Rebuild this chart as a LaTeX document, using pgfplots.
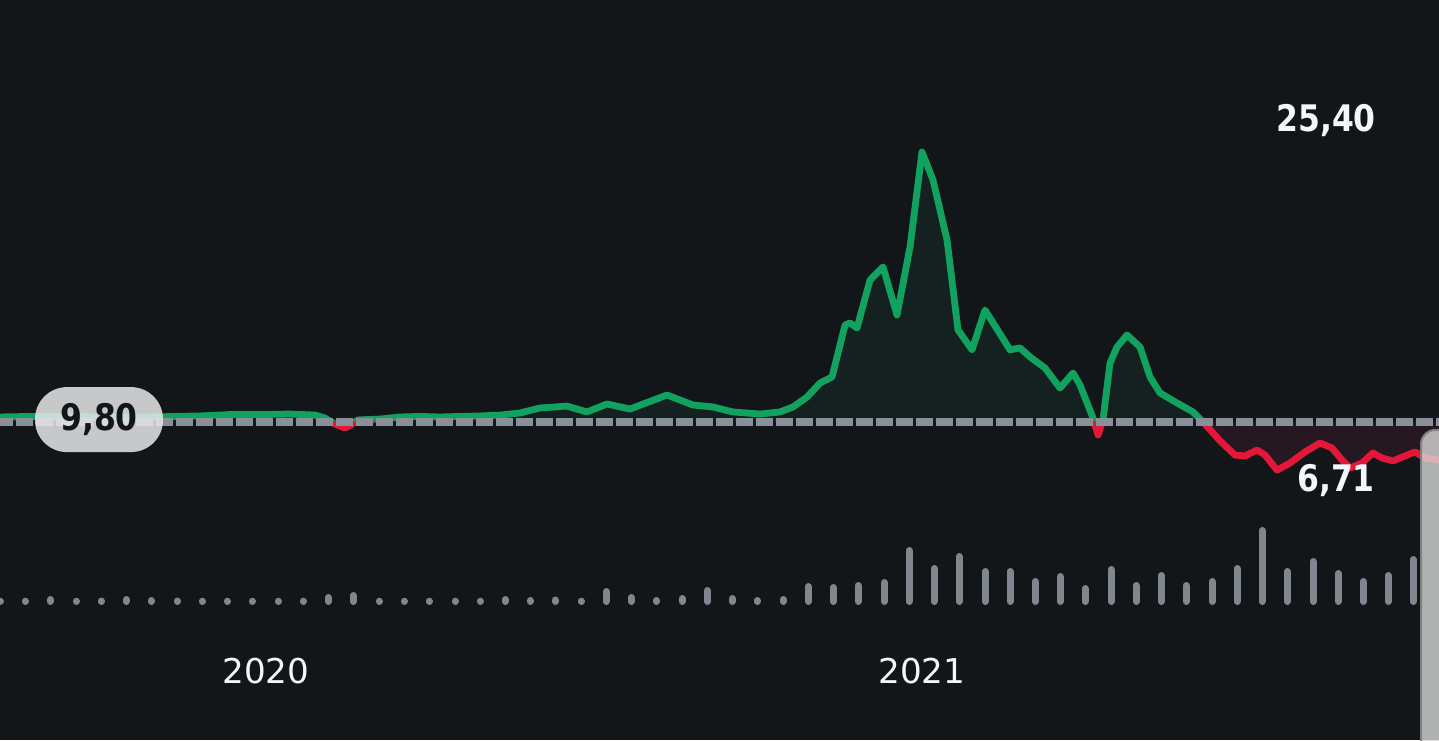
\documentclass[border=0pt]{standalone}
\usepackage{pgfplots}
\pgfplotsset{compat=1.18}
\usepackage{pgfplotstable}
\usepackage{fontspec}
\setmainfont{DejaVu Sans}
\newfontfamily\labfont{DejaVu Sans}[FakeStretch=0.86]
\definecolor{bg}{HTML}{121619}
\definecolor{upc}{HTML}{10A25E}
\definecolor{dnc}{HTML}{E3173A}
\definecolor{upfill}{HTML}{152120}
\definecolor{dnfill}{HTML}{261820}
\definecolor{dashc}{HTML}{8A9099}
\definecolor{volc}{HTML}{7F868E}
\definecolor{pillc}{HTML}{E6E8EA}
\definecolor{txt}{HTML}{F5F7FA}
\definecolor{panelc}{HTML}{D8D8D8}

\pgfplotstableread{
x p
0 10.09
30 10.12
100 10.09
150 10.09
200 10.15
230 10.23
260 10.23
290 10.26
315 10.20
325 10.03
335 9.68
345 9.45
352 9.68
358 9.92
380 9.97
400 10.09
420 10.12
440 10.09
460 10.12
480 10.15
500 10.20
520 10.32
540 10.61
567 10.72
587 10.38
607 10.84
630 10.55
667 11.36
693 10.78
713 10.67
733 10.38
760 10.26
780 10.38
793 10.67
807 11.24
820 12.05
832 12.40
845 15.40
850 15.52
857 15.23
870 18.00
883 18.76
897 15.98
910 19.91
922 25.40
933 23.78
947 20.32
958 15.12
972 13.97
985 16.27
1010 13.97
1020 14.08
1030 13.56
1045 12.92
1060 11.76
1073 12.63
1080 11.94
1093 10.03
1098 9.05
1103 9.92
1110 13.21
1117 14.13
1127 14.83
1140 14.13
1150 12.40
1160 11.48
1177 10.90
1193 10.38
1200 9.97
1205 9.68
1220 8.71
1235 7.89
1245 7.84
1257 8.18
1265 7.89
1277 7.02
1290 7.43
1305 8.07
1320 8.59
1332 8.30
1342 7.60
1350 7.14
1362 7.43
1373 8.01
1382 7.72
1393 7.55
1405 7.84
1415 8.07
1425 7.72
1439 7.60
}\price

\pgfplotstableread{
x v
0 0.3
25 0.3
50 2
76 0.3
101 0.5
126 2
151 1
177 0.5
202 0.3
227 0.3
252 0.3
278 0.3
303 0.3
328 4
353 6
379 0.3
404 0.3
429 0.3
455 0.3
480 0.3
505 2
530 1
555 1.5
581 0.3
606 10
631 4
656 1
682 3
707 11
732 3
757 1
783 2
808 15
833 14
858 16
884 19
909 51
934 33
959 45
985 30
1010 30
1035 20
1060 25
1085 13
1111 32
1136 16
1161 26
1186 16
1212 20
1237 33
1262 71
1287 30
1313 40
1338 28
1363 20
1388 26
1413 42
}\volume

\pgfplotsset{base/.style={scale only axis, width=719.5pt, xmin=0, xmax=1439, hide axis, anchor=south west}}

\begin{document}
\begin{tikzpicture}
\fill[bg] (0,0) rectangle (719.5pt,370pt);
\useasboundingbox (0,0) rectangle (719.5pt,370pt);
% volume
\begin{axis}[base, at={(0,0)}, height=370pt, ymin=-138.5, ymax=601.5]
\addplot[ycomb, draw=volc, line width=3.5pt, line cap=round, mark=none] table[x=x,y=v]{\volume};
\end{axis}
% above baseline (y relative to the 9.80 reference)
\begin{axis}[base, at={(0,159pt)}, height=211pt, ymin=0, ymax=24.38]
\addplot[fill=upfill, draw=none, mark=none] table[x=x,y expr=\thisrow{p}-9.80]{\price} \closedcycle;
\addplot[draw=upc, line width=3.4pt, line join=round, line cap=round, mark=none] table[x=x,y expr=\thisrow{p}-9.80]{\price};
\end{axis}
% below baseline
\begin{axis}[base, at={(0,0)}, height=159pt, ymin=-18.37, ymax=0]
\addplot[fill=dnfill, draw=none, mark=none] table[x=x,y expr=\thisrow{p}-9.80]{\price} \closedcycle;
\addplot[draw=dnc, line width=3.4pt, line join=round, line cap=round, mark=none] table[x=x,y expr=\thisrow{p}-9.80]{\price};
\end{axis}
% overlay
\begin{axis}[base, at={(0,0)}, height=370pt, ymin=-8.57, ymax=34.18, clip=true]
\addplot[draw=dashc, line width=3.75pt, dash pattern=on 8.25pt off 1.75pt, dash phase=2pt, mark=none] coordinates {(0,9.80) (1439,9.80)};
\node[fill=pillc, fill opacity=0.85, text opacity=1, rounded corners=16pt, minimum width=64pt, minimum height=32.5pt, inner sep=0pt, text=bg, font=\labfont\bfseries\fontsize{18.3}{20}\selectfont] at (axis cs:99,9.94) {9,80};
\node[anchor=base, text=txt, inner sep=0pt, font=\labfont\bfseries\fontsize{18.3}{20}\selectfont] at (axis cs:1326,26.59) {25,40};
\node[anchor=base, text=txt, inner sep=0pt, font=\labfont\bfseries\fontsize{18.3}{20}\selectfont] at (axis cs:1336,5.76) {6,71};
\node[anchor=base, text=txt, inner sep=0pt, font=\fontsize{17.1}{20}\selectfont] at (axis cs:266,-5.28) {2020};
\node[anchor=base, text=txt, inner sep=0pt, font=\fontsize{17.1}{20}\selectfont] at (axis cs:922,-5.28) {2021};
\fill[panelc, opacity=0.8, rounded corners=7pt] (axis cs:1421,-10) -- (axis cs:1421,9.34) -- (axis cs:1460,9.34) -- (axis cs:1460,-10) -- cycle;
\draw[gray, line width=1pt, rounded corners=7pt] (axis cs:1421,-10) -- (axis cs:1421,9.34) -- (axis cs:1460,9.34);
\end{axis}
\end{tikzpicture}
\end{document}
